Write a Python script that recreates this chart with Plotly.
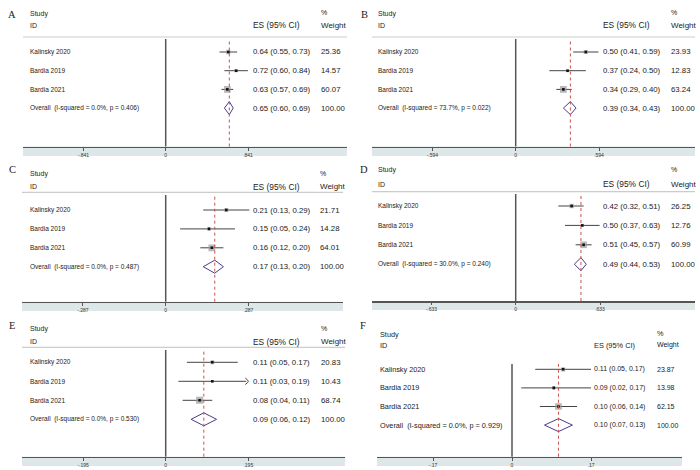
import plotly.graph_objects as go
import math

# ---------------- data ----------------
studies = ["Kalinsky 2020", "Bardia 2019", "Bardia 2021"]
letters = ["A", "B", "C", "D", "E", "F"]

es_A = [0.64, 0.72, 0.63]; lo_A = [0.55, 0.60, 0.57]; hi_A = [0.73, 0.84, 0.69]
wt_A = [25.36, 14.57, 60.07]; ov_A = [0.65, 0.60, 0.69]; i2_A = "0.0%"; p_A = "0.406"
tick_A = 0.841; ticklab_A = ["-.841", "0", ".841"]; clip_A = [False, False, False]

es_B = [0.50, 0.37, 0.34]; lo_B = [0.41, 0.24, 0.29]; hi_B = [0.59, 0.50, 0.40]
wt_B = [23.93, 12.83, 63.24]; ov_B = [0.39, 0.34, 0.43]; i2_B = "73.7%"; p_B = "0.022"
tick_B = 0.594; ticklab_B = ["-.594", "0", ".594"]; clip_B = [False, False, False]

es_C = [0.21, 0.15, 0.16]; lo_C = [0.13, 0.05, 0.12]; hi_C = [0.29, 0.24, 0.20]
wt_C = [21.71, 14.28, 64.01]; ov_C = [0.17, 0.13, 0.20]; i2_C = "0.0%"; p_C = "0.487"
tick_C = 0.287; ticklab_C = ["-.287", "0", ".287"]; clip_C = [False, False, False]

es_D = [0.42, 0.50, 0.51]; lo_D = [0.32, 0.37, 0.45]; hi_D = [0.51, 0.63, 0.57]
wt_D = [26.25, 12.76, 60.99]; ov_D = [0.49, 0.44, 0.53]; i2_D = "30.0%"; p_D = "0.240"
tick_D = 0.633; ticklab_D = ["-.633", "0", ".633"]; clip_D = [False, False, False]

es_E = [0.11, 0.11, 0.08]; lo_E = [0.05, 0.03, 0.04]; hi_E = [0.17, 0.19, 0.11]
wt_E = [20.83, 10.43, 68.74]; ov_E = [0.09, 0.06, 0.12]; i2_E = "0.0%"; p_E = "0.530"
tick_E = 0.195; ticklab_E = ["-.195", "0", ".195"]; clip_E = [False, True, False]

es_F = [0.11, 0.09, 0.10]; lo_F = [0.05, 0.02, 0.06]; hi_F = [0.17, 0.17, 0.14]
wt_F = [23.87, 13.98, 62.15]; ov_F = [0.10, 0.07, 0.13]; i2_F = "0.0%"; p_F = "0.929"
tick_F = 0.17; ticklab_F = ["-.17", "0", ".17"]; clip_F = [False, False, False]

panels_data = [
    (es_A, lo_A, hi_A, wt_A, ov_A, i2_A, p_A, tick_A, ticklab_A, clip_A),
    (es_B, lo_B, hi_B, wt_B, ov_B, i2_B, p_B, tick_B, ticklab_B, clip_B),
    (es_C, lo_C, hi_C, wt_C, ov_C, i2_C, p_C, tick_C, ticklab_C, clip_C),
    (es_D, lo_D, hi_D, wt_D, ov_D, i2_D, p_D, tick_D, ticklab_D, clip_D),
    (es_E, lo_E, hi_E, wt_E, ov_E, i2_E, p_E, tick_E, ticklab_E, clip_E),
    (es_F, lo_F, hi_F, wt_F, ov_F, i2_F, p_F, tick_F, ticklab_F, clip_F),
]

# ---------------- layout geometry (pixels) ----------------
W, H = 700, 470
geo = [
    dict(L=23, R=347, Z=165.7, T=248.0, top=39, axis=146.5, band=156, first=52, step=18.7,
         hline=37, study=14, idy=25, lx=28, esx=251, wtx=319, letx=12, lety=15, hl=True, big=False),
    dict(L=372, R=695, Z=515.7, T=599.0, top=39, axis=146.5, band=156, first=52, step=18.7,
         hline=37, study=14, idy=25, lx=376, esx=601, wtx=669, letx=364, lety=15, hl=True, big=False),
    dict(L=22, R=343, Z=165.7, T=248.5, top=195, axis=301.7, band=311, first=210, step=18.9,
         hline=192.3, study=174.3, idy=186.7, lx=28, esx=251, wtx=318, letx=12, lety=170, hl=True, big=False),
    dict(L=372, R=695, Z=515.7, T=600.0, top=194, axis=301, band=310, first=206, step=19.4,
         hline=191.7, study=170, idy=184.3, lx=376, esx=601, wtx=669, letx=364, lety=170, hl=True, big=False),
    dict(L=22, R=345, Z=165.7, T=248.3, top=350, axis=456.7, band=466, first=362.3, step=19.0,
         hline=347.3, study=329.3, idy=341.7, lx=28, esx=251, wtx=319, letx=12, lety=325, hl=True, big=False),
    dict(L=377, R=682, Z=512.0, T=591.0, top=364, axis=456.7, band=466, first=369.3, step=18.6,
         hline=352, study=334, idy=345, lx=378, esx=592, wtx=655, letx=363, lety=325, hl=False, big=True),
]

SANS = "Liberation Sans, Arial, sans-serif"
SERIF = "Liberation Serif, Times New Roman, serif"
TXT = "#1a1a1a"

def px(x):
    return x / W

def py(y):
    return 1 - y / H

fig = go.Figure()
shapes = []
annotations = []
layout_axes = {}

for i, (d, g) in enumerate(zip(panels_data, geo)):
    es, lo, hi, wt, ov, i2, pv, tick, ticklab, clip = d
    n = "" if i == 0 else str(i + 1)
    xa, ya = "x" + n, "y" + n
    scale = tick / (g["T"] - g["Z"])  # data units per pixel
    xmin = (g["L"] - g["Z"]) * scale
    xmax = (g["R"] - g["Z"]) * scale
    r_bot = (g["axis"] - g["first"]) / g["step"]
    r_top = (g["top"] - g["first"]) / g["step"]

    layout_axes["xaxis" + n] = dict(
        domain=[px(g["L"]), px(g["R"])], range=[xmin, xmax], anchor=ya,
        showgrid=False, zeroline=False, showline=True, linecolor="#555555", linewidth=1.5,
        ticks="outside", ticklen=2.5, tickwidth=1, tickcolor="#555555",
        tickvals=[-tick, 0, tick], ticktext=ticklab, ticklabelstandoff=0,
        tickfont=dict(family=SANS, size=5, color="#333333"), fixedrange=True,
    )
    layout_axes["yaxis" + n] = dict(
        domain=[py(g["axis"]), py(g["top"])], range=[r_bot, r_top], anchor=xa,
        showgrid=False, zeroline=False, showline=False, showticklabels=False, ticks="",
        fixedrange=True,
    )

    rows = list(range(len(studies)))
    ov_row = len(studies)

    # gray band under the axis
    shapes.append(dict(type="rect", xref="paper", yref="paper",
                       x0=px(g["L"]), x1=px(g["R"]), y0=py(g["band"]), y1=py(g["axis"]),
                       fillcolor="#dde7e7", line=dict(width=0), layer="below"))
    # header separator
    if g["hl"]:
        shapes.append(dict(type="line", xref="paper", yref="paper",
                           x0=px(g["L"]), x1=px(g["R"]), y0=py(g["hline"]), y1=py(g["hline"]),
                           line=dict(color="#cccccc", width=1.2)))
    # null line
    shapes.append(dict(type="line", xref=xa, yref=ya + " domain", x0=0, x1=0, y0=0, y1=1,
                       line=dict(color="#555555", width=1.5)))
    # overall effect dashed line
    shapes.append(dict(type="line", xref=xa, yref=ya + " domain", x0=ov[0], x1=ov[0], y0=0, y1=1,
                       line=dict(color="#c8524f", width=1, dash="dot")))

    # CI lines
    cx, cy = [], []
    for r in rows:
        h = min(hi[r], tick) if clip[r] else hi[r]
        cx += [lo[r], h, None]
        cy += [r, r, None]
    fig.add_trace(go.Scatter(x=cx, y=cy, mode="lines", xaxis=xa, yaxis=ya,
                             line=dict(color="#444444", width=1), hoverinfo="skip"))
    # clipped arrows
    for r in rows:
        if clip[r]:
            dx = 3 * scale
            fig.add_trace(go.Scatter(x=[tick - dx, tick, tick - dx], y=[r - 0.17, r, r + 0.17],
                                     mode="lines", xaxis=xa, yaxis=ya,
                                     line=dict(color="#444444", width=1, shape="spline"),
                                     hoverinfo="skip"))
    # weight boxes
    fig.add_trace(go.Scatter(x=es, y=rows, mode="markers", xaxis=xa, yaxis=ya,
                             marker=dict(symbol="square", size=[0.85 * math.sqrt(w) for w in wt],
                                         color="#9a9a9a", line=dict(width=0)),
                             hoverinfo="skip"))
    # point estimate dots
    fig.add_trace(go.Scatter(x=es, y=rows, mode="markers", xaxis=xa, yaxis=ya,
                             marker=dict(symbol="square", size=2.6, color="#111111", line=dict(width=0)),
                             hoverinfo="skip"))
    # diamond
    hh = 6.5 / g["step"]
    fig.add_trace(go.Scatter(x=[ov[1], ov[0], ov[2], ov[0], ov[1]],
                             y=[ov_row, ov_row - hh, ov_row, ov_row + hh, ov_row],
                             mode="lines", xaxis=xa, yaxis=ya,
                             line=dict(color="#4b3c8c", width=1), hoverinfo="skip"))

    # ---- text ----
    lf = 7.3 if g["big"] else 6.5
    ef = 7.0 if g["big"] else 7.8
    hf = 7.4 if g["big"] else 8.4
    wf = 7.0 if g["big"] else 8.0
    sf = 7.3 if g["big"] else 7.0

    def ann(text, x, y, size, yref="paper", family=SANS, xanchor="left"):
        annotations.append(dict(text=text, x=x, y=y, xref="paper", yref=yref, showarrow=False,
                                xanchor=xanchor, yanchor="middle",
                                font=dict(family=family, size=size, color=TXT)))

    ann(letters[i], px(g["letx"]), py(g["lety"]), 10.5, family=SERIF, xanchor="center")
    ann("Study", px(g["lx"]), py(g["study"]), sf)
    ann("ID", px(g["lx"]), py(g["idy"]), sf)
    ann("%", px(g["wtx"]), py(g["study"] - 1), sf)
    ann("ES (95% CI)", px(g["esx"]), py(g["idy"]), hf)
    ann("Weight", px(g["wtx"]), py(g["idy"]), wf)
    for r in rows:
        ann(studies[r], px(g["lx"]), r, lf, yref=ya)
        ann(f"{es[r]:.2f} ({lo[r]:.2f}, {hi[r]:.2f})", px(g["esx"]), r, ef, yref=ya)
        ann(f"{wt[r]:.2f}", px(g["wtx"]), r, ef, yref=ya)
    ann(f"Overall\u00a0\u00a0(I-squared = {i2}, p = {pv})", px(g["lx"]), ov_row, lf, yref=ya)
    ann(f"{ov[0]:.2f} ({ov[1]:.2f}, {ov[2]:.2f})", px(g["esx"]), ov_row, ef, yref=ya)
    ann(f"{sum(wt):.2f}", px(g["wtx"]), ov_row, ef, yref=ya)

fig.update_layout(
    width=W, height=H, margin=dict(l=0, r=0, t=0, b=0),
    paper_bgcolor="white", plot_bgcolor="rgba(0,0,0,0)", showlegend=False,
    shapes=shapes, annotations=annotations, **layout_axes,
)

fig.write_html("out.html", config={"displayModeBar": False, "staticPlot": True},
               post_script="document.body.style.margin='0';document.body.style.overflow='hidden';")
